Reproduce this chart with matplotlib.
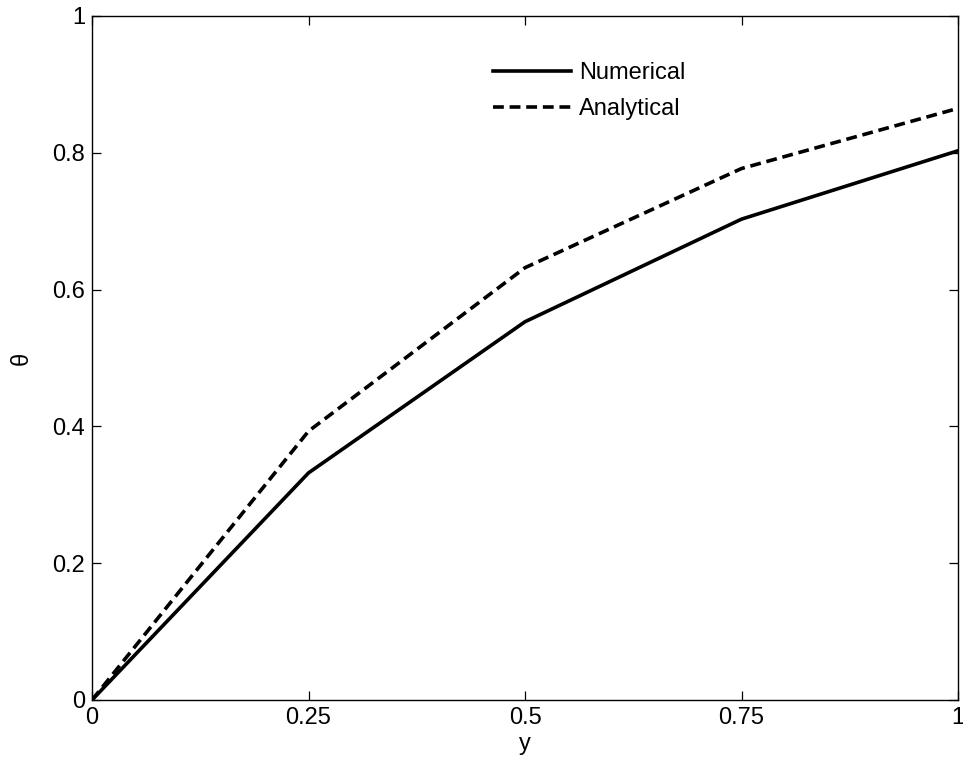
import matplotlib
matplotlib.use("Agg")
import matplotlib.pyplot as plt

plt.rcParams['font.family'] = ['Liberation Sans', 'DejaVu Sans']

y_vals = [0, 0.25, 0.5, 0.75, 1.0]
numerical = [0, 0.332, 0.553, 0.703, 0.803]
analytical = [0, 0.393, 0.632, 0.777, 0.865]
xticks = [0, 0.25, 0.5, 0.75, 1]
xticklabels = ['0', '0.25', '0.5', '0.75', '1']
yticks = [0, 0.2, 0.4, 0.6, 0.8, 1]
yticklabels = ['0', '0.2', '0.4', '0.6', '0.8', '1']

FS = 17

fig = plt.figure(figsize=(9.63, 7.71), dpi=100)
ax = fig.add_axes([92/963, 71/771, 866/963, 684/771])
ax.plot(y_vals, numerical, color='black', lw=2.6, linestyle='-', label='Numerical')
ax.plot(y_vals, analytical, color='black', lw=2.6, linestyle=(0, (3, 1.6)), label='Analytical')
ax.set_xlim(0, 1)
ax.set_ylim(0, 1)
ax.set_xticks(xticks)
ax.set_xticklabels(xticklabels)
ax.set_yticks(yticks)
ax.set_yticklabels(yticklabels)
ax.tick_params(direction='in', length=6.5, width=0.9, labelsize=FS, pad=5,
               top=True, right=True)
ax.set_xlabel('y', fontsize=FS, labelpad=3)
ax.set_ylabel('θ', fontsize=FS, labelpad=14)
for s in ax.spines.values():
    s.set_linewidth(1.0)
leg = ax.legend(loc='upper left', bbox_to_anchor=(481/963, 721/771),
                bbox_transform=fig.transFigure, frameon=False, borderpad=0,
                fontsize=FS, handlelength=3.3, handletextpad=0.35, labelspacing=0.6)
fig.savefig('out.png', dpi=100)
